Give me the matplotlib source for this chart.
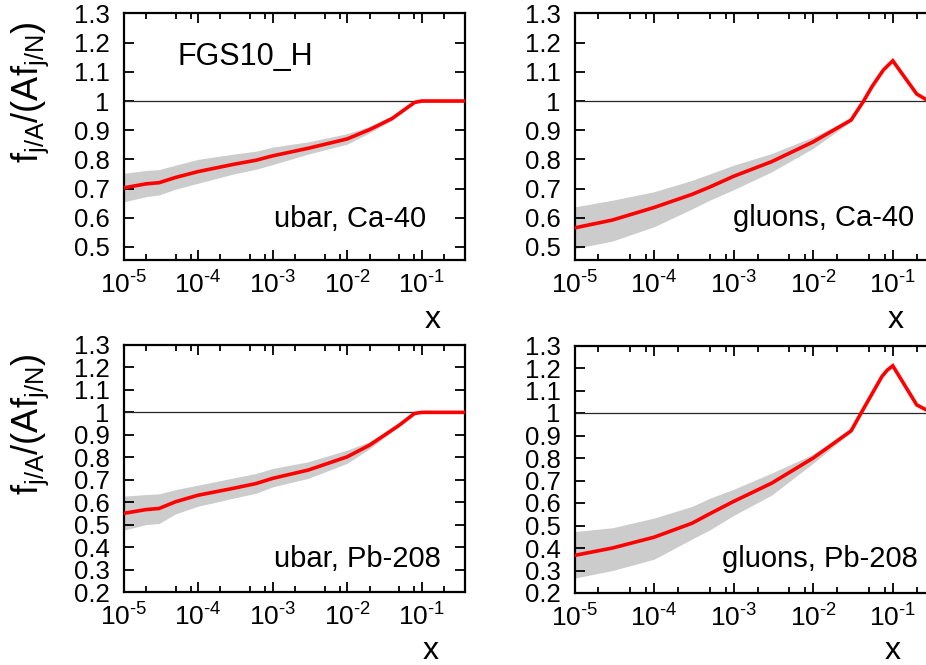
import numpy as np
import matplotlib
matplotlib.use("Agg")
import matplotlib.pyplot as plt
from matplotlib.ticker import FixedLocator, FixedFormatter, NullFormatter

plt.rcParams['font.family'] = ['Liberation Sans', 'DejaVu Sans']
plt.rcParams['mathtext.fontset'] = 'custom'
plt.rcParams['mathtext.rm'] = 'Liberation Sans'
plt.rcParams['mathtext.it'] = 'Liberation Sans'

# --- data ---
# ubar, Ca-40
x_ubar_ca = [1e-5, 2e-5, 3e-5, 5e-5, 1e-4, 3e-4, 6e-4, 1e-3, 3e-3, 1e-2, 2e-2, 4e-2, 6e-2, 8e-2, 1e-1, 0.4]
y_ubar_ca = [0.702, 0.716, 0.720, 0.738, 0.758, 0.783, 0.797, 0.812, 0.838, 0.870, 0.902, 0.940, 0.972, 0.995, 1.0, 1.0]
hi_ubar_ca = [0.752, 0.762, 0.765, 0.780, 0.800, 0.818, 0.828, 0.842, 0.860, 0.888, 0.913, 0.946, 0.974, 0.996, 1.0, 1.0]
lo_ubar_ca = [0.654, 0.672, 0.678, 0.698, 0.718, 0.750, 0.766, 0.782, 0.818, 0.852, 0.891, 0.934, 0.970, 0.994, 1.0, 1.0]

# gluons, Ca-40
x_glu_ca = [1e-5, 3e-5, 1e-4, 3e-4, 5e-4, 1e-3, 3e-3, 1e-2, 3e-2, 4.3e-2, 5.5e-2, 7.6e-2, 1e-1, 0.2, 0.27, 0.4]
y_glu_ca = [0.565, 0.592, 0.635, 0.680, 0.705, 0.742, 0.792, 0.860, 0.935, 1.0, 1.05, 1.106, 1.138, 1.024, 1.003, 0.99]
hi_glu_ca = [0.637, 0.660, 0.689, 0.728, 0.750, 0.780, 0.820, 0.877, 0.940, 1.0, 1.05, 1.106, 1.138, 1.024, 1.003, 0.99]
lo_glu_ca = [0.494, 0.520, 0.569, 0.630, 0.660, 0.696, 0.757, 0.838, 0.930, 1.0, 1.05, 1.106, 1.138, 1.024, 1.003, 0.99]

# ubar, Pb-208
x_ubar_pb = [1e-5, 2e-5, 3e-5, 5e-5, 1e-4, 3e-4, 6e-4, 1e-3, 3e-3, 1e-2, 2e-2, 5e-2, 8e-2, 1e-1, 0.4]
y_ubar_pb = [0.550, 0.567, 0.572, 0.602, 0.631, 0.662, 0.683, 0.706, 0.743, 0.802, 0.854, 0.943, 0.995, 1.0, 1.0]
hi_ubar_pb = [0.627, 0.634, 0.637, 0.656, 0.676, 0.708, 0.728, 0.750, 0.780, 0.832, 0.870, 0.948, 0.996, 1.0, 1.0]
lo_ubar_pb = [0.475, 0.500, 0.505, 0.548, 0.582, 0.618, 0.640, 0.668, 0.706, 0.773, 0.838, 0.938, 0.994, 1.0, 1.0]

# gluons, Pb-208
x_glu_pb = [1e-5, 3e-5, 1e-4, 3e-4, 5e-4, 1e-3, 3e-3, 1e-2, 3e-2, 4e-2, 7.3e-2, 8.5e-2, 1e-1, 0.2, 0.27, 0.4]
y_glu_pb = [0.367, 0.400, 0.448, 0.510, 0.552, 0.607, 0.688, 0.800, 0.921, 1.0, 1.162, 1.19, 1.21, 1.036, 1.012, 0.99]
hi_glu_pb = [0.473, 0.490, 0.533, 0.585, 0.621, 0.661, 0.733, 0.817, 0.926, 1.0, 1.162, 1.19, 1.21, 1.036, 1.012, 0.99]
lo_glu_pb = [0.266, 0.300, 0.350, 0.440, 0.480, 0.545, 0.635, 0.777, 0.915, 1.0, 1.162, 1.19, 1.21, 1.036, 1.012, 0.99]

panel_labels = ["ubar, Ca-40", "gluons, Ca-40", "ubar, Pb-208", "gluons, Pb-208"]
set_label = "FGS10_H"

x_major = [1e-5, 1e-4, 1e-3, 1e-2, 1e-1]
x_major_labels = [r'$\mathregular{10^{\text{-}5}}$', r'$\mathregular{10^{\text{-}4}}$',
                  r'$\mathregular{10^{\text{-}3}}$', r'$\mathregular{10^{\text{-}2}}$',
                  r'$\mathregular{10^{\text{-}1}}$']
y_top_ticks = [0.5, 0.6, 0.7, 0.8, 0.9, 1.0, 1.1, 1.2, 1.3]
y_top_labels = ["0.5", "0.6", "0.7", "0.8", "0.9", "1", "1.1", "1.2", "1.3"]
y_bot_ticks = [0.2, 0.3, 0.4, 0.5, 0.6, 0.7, 0.8, 0.9, 1.0, 1.1, 1.2, 1.3]
y_bot_labels = ["0.2", "0.3", "0.4", "0.5", "0.6", "0.7", "0.8", "0.9", "1", "1.1", "1.2", "1.3"]

W, H = 926, 665
fig = plt.figure(figsize=(W / 100, H / 100), dpi=100)

def px_rect(left, top, right, bottom):
    return [left / W, 1 - bottom / H, (right - left) / W, (bottom - top) / H]

# right-hand panels run past the figure edge, as in the reference
rects = [px_rect(123.5, 13.5, 465, 260), px_rect(574.5, 13.5, 939, 260),
         px_rect(123.5, 345, 465, 592), px_rect(574.5, 345.5, 939, 593)]
series = [(x_ubar_ca, y_ubar_ca, lo_ubar_ca, hi_ubar_ca),
          (x_glu_ca, y_glu_ca, lo_glu_ca, hi_glu_ca),
          (x_ubar_pb, y_ubar_pb, lo_ubar_pb, hi_ubar_pb),
          (x_glu_pb, y_glu_pb, lo_glu_pb, hi_glu_pb)]

minor = [m * 10.0 ** e for e in range(-5, 0) for m in (2, 5, 8)]

for i, (rect, (xs, ys, lo, hi)) in enumerate(zip(rects, series)):
    ax = fig.add_axes(rect)
    ax.set_xscale('log')
    ax.fill_between(xs, lo, hi, color='#cccccc', lw=0, zorder=1)
    ax.axhline(1.0, color='0.15', lw=0.9, zorder=2)
    ax.plot(xs, ys, color='#ff0000', lw=2.6, zorder=3, solid_joinstyle='miter')
    ax.set_xlim(1e-5, 0.381)
    if i < 2:
        ax.set_ylim(0.455, 1.3)
        ax.yaxis.set_major_locator(FixedLocator(y_top_ticks))
        ax.yaxis.set_major_formatter(FixedFormatter(y_top_labels))
    else:
        ax.set_ylim(0.2, 1.3)
        ax.yaxis.set_major_locator(FixedLocator(y_bot_ticks))
        ax.yaxis.set_major_formatter(FixedFormatter(y_bot_labels))
    ax.xaxis.set_major_locator(FixedLocator(x_major))
    ax.xaxis.set_major_formatter(FixedFormatter(x_major_labels))
    ax.xaxis.set_minor_locator(FixedLocator(minor))
    ax.xaxis.set_minor_formatter(NullFormatter())
    ax.tick_params(which='both', direction='in', top=True, right=True, width=1.3)
    ax.tick_params(axis='y', which='major', length=7.5, pad=10, labelsize=18.5)
    ax.tick_params(axis='x', which='major', length=7, pad=8, labelsize=19)
    ax.tick_params(axis='x', which='minor', length=4)
    for s in ax.spines.values():
        s.set_linewidth(1.6)

# panel texts (pixel positions)
fig.text(177 / W, 1 - 65 / H, set_label, fontsize=22, ha='left', va='baseline')
fig.text(274 / W, 1 - 227 / H, panel_labels[0], fontsize=21, ha='left', va='baseline')
fig.text(733 / W, 1 - 226 / H, panel_labels[1], fontsize=21, ha='left', va='baseline')
fig.text(274 / W, 1 - 567 / H, panel_labels[2], fontsize=21, ha='left', va='baseline')
fig.text(722 / W, 1 - 567 / H, panel_labels[3], fontsize=21, ha='left', va='baseline')

ylab = r'$\mathregular{f_{j/A}/(Af_{j/N})}$'
fig.text(30 / W, 1 - 92 / H, ylab, fontsize=26, rotation=90, ha='center', va='center')
fig.text(30 / W, 1 - 424 / H, ylab, fontsize=26, rotation=90, ha='center', va='center')

for (xc, yb) in [(433, 328), (896, 328), (431, 659), (893, 659)]:
    fig.text(xc / W, 1 - yb / H, "x", fontsize=23, ha='center', va='baseline')

fig.savefig("out.png", dpi=100)
